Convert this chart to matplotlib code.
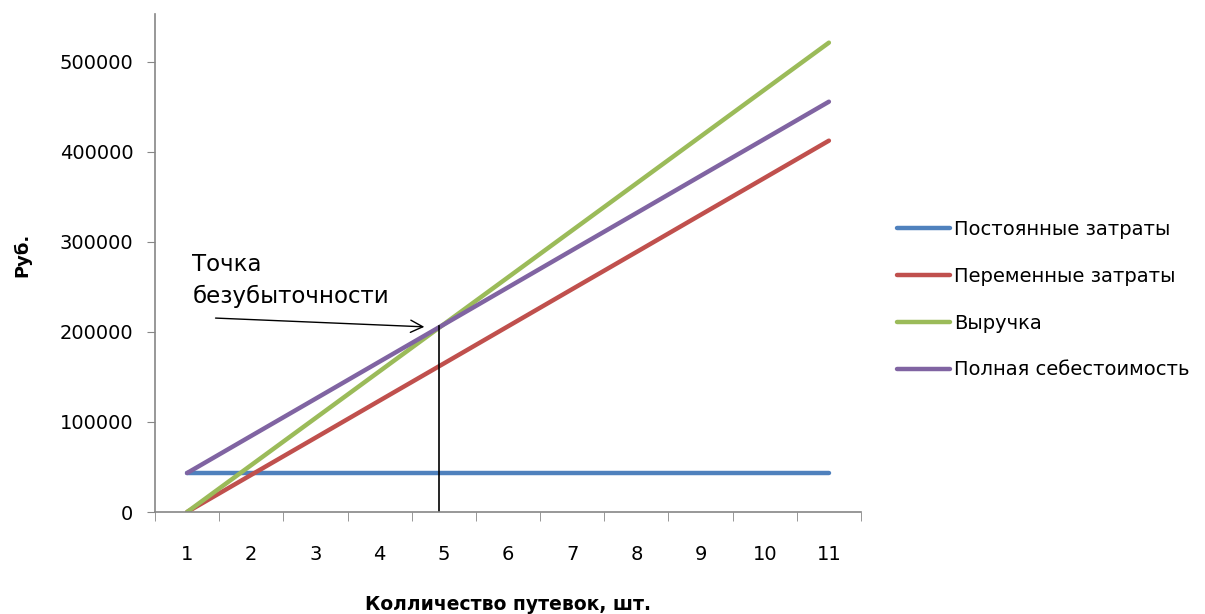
import matplotlib
matplotlib.use("Agg")
import matplotlib.pyplot as plt
import numpy as np

# данные
kolichestvo = [1, 2, 3, 4, 5, 6, 7, 8, 9, 10, 11]
postoyannye = [43300] * 11
peremennye = [0, 41300, 82500, 123800, 165000, 206300, 247600, 288800, 330100, 371300, 412600]
vyruchka = [0, 52150, 104300, 156450, 208600, 260750, 312900, 365050, 417200, 469350, 521500]
polnaya = [43300, 84600, 125800, 167100, 208300, 249600, 290900, 332100, 373400, 414600, 455900]

series_names = ["Постоянные затраты", "Переменные затраты", "Выручка", "Полная себестоимость"]
series_colors = ["#4F81BD", "#C0504D", "#9BBB59", "#8064A2"]

# точка безубыточности
bep_x = 4.92
bep_y = 206700
arrow_tail = (1.40, 215600)
arrow_head = (4.74, 205600)

plt.rcParams['font.family'] = ['DejaVu Sans']

fig = plt.figure(figsize=(12.05, 6.14), dpi=100)
ax = fig.add_axes([155 / 1205, 1 - 512 / 614, (861 - 155) / 1205, (512 - 14) / 614])

all_series = [postoyannye, peremennye, vyruchka, polnaya]
for vals, name, col in zip(all_series, series_names, series_colors):
    ax.plot(kolichestvo, vals, color=col, lw=3.2, label=name, solid_capstyle='round')

ax.set_xlim(0.5, len(kolichestvo) + 0.5)
ax.set_ylim(0, 553333)

ax.set_xticks(kolichestvo)
ax.set_xticklabels([str(k) for k in kolichestvo])
ax.set_xticks(np.arange(0.5, len(kolichestvo) + 1), minor=True)
ax.tick_params(axis='x', which='major', length=0, pad=24, labelsize=14)
ax.tick_params(axis='x', which='minor', length=6.5, color='#868686', direction='out')

ax.set_yticks(np.arange(0, 500001, 100000))
ax.tick_params(axis='y', which='major', length=5.5, color='#868686', pad=10, labelsize=14)

for side in ['top', 'right']:
    ax.spines[side].set_visible(False)
for side in ['left', 'bottom']:
    ax.spines[side].set_color('#868686')
    ax.spines[side].set_linewidth(1.2)

# вертикальная линия и стрелка
ax.plot([bep_x, bep_x], [0, bep_y], color='black', lw=1.2)
ax.annotate("", xy=arrow_head, xytext=arrow_tail,
            arrowprops=dict(arrowstyle='->', color='black', lw=1.0, mutation_scale=22))
ax.text(1.08, 226500, "Точка\nбезубыточности", fontsize=16.5, ha='left', va='bottom',
        linespacing=1.5)

fig.text(22 / 1205, 1 - 255 / 614, "Руб.", rotation=90, fontsize=13, fontweight='bold',
         ha='center', va='center')
fig.text(508 / 1205, 1 - 605 / 614, "Колличество путевок, шт.", fontsize=13.5,
         fontweight='bold', ha='center', va='center')

fig.legend(loc='upper left', bbox_to_anchor=(897 / 1205, 1 - 220 / 614), frameon=False,
           fontsize=14, handlelength=2.75, handletextpad=0.2, labelspacing=1.43,
           borderaxespad=0, borderpad=0)

fig.savefig("out.png", dpi=100)
